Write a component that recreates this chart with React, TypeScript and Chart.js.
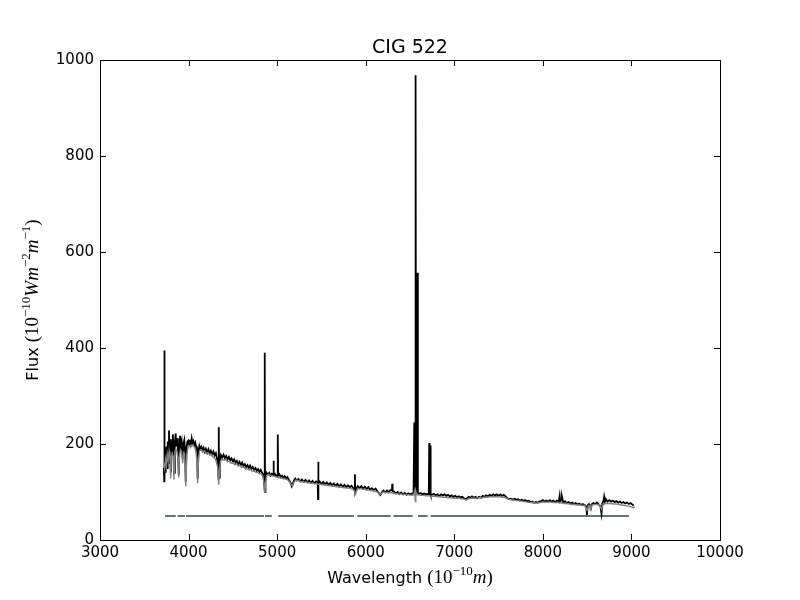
import { useEffect, useRef } from "react";
import { Chart, registerables } from "chart.js";

Chart.register(...registerables);

const chartTitle = "CIG 522";
const xTicks = [3000, 4000, 5000, 6000, 7000, 8000, 9000, 10000];
const yTicks = [0, 200, 400, 600, 800, 1000];

// observed spectrum (black)
const obsWave = [
  3718, 3722, 3725, 3727, 3729, 3735, 3742, 3750, 3758, 3765, 3772, 3779, 3786, 3793, 3800, 3808,
  3815, 3822, 3830, 3837, 3845, 3854, 3862, 3870, 3880, 3889, 3897, 3903, 3912, 3922, 3933, 3942,
  3952, 3960, 3968, 3976, 3986, 3996, 4006, 4016, 4025, 4035, 4045, 4055, 4065, 4075, 4085, 4095,
  4103, 4112, 4122, 4133, 4145, 4158, 4170, 4183, 4196, 4210, 4224, 4238, 4252, 4266, 4280, 4294,
  4308, 4320, 4330, 4338, 4341, 4344, 4352, 4365, 4380, 4395, 4410, 4425, 4440, 4455, 4470, 4485,
  4500, 4515, 4530, 4545, 4560, 4575, 4590, 4605, 4620, 4635, 4650, 4665, 4680, 4695, 4710, 4725,
  4740, 4755, 4770, 4785, 4800, 4815, 4830, 4845, 4855, 4859, 4861, 4863, 4868, 4880, 4895, 4910,
  4925, 4940, 4955, 4959, 4963, 4975, 4990, 5003, 5007, 5011, 5025, 5040, 5055, 5070, 5085, 5100,
  5115, 5130, 5150, 5165, 5175, 5190, 5205, 5220, 5240, 5260, 5280, 5300, 5320, 5340, 5360, 5380,
  5400, 5420, 5440, 5458, 5462, 5464, 5467, 5480, 5500, 5520, 5540, 5560, 5580, 5600, 5620, 5640,
  5660, 5680, 5700, 5720, 5740, 5760, 5780, 5800, 5820, 5840, 5860, 5874, 5878, 5882, 5895, 5910,
  5930, 5950, 5970, 5990, 6010, 6030, 6050, 6070, 6090, 6110, 6130, 6150, 6165, 6180, 6200, 6220,
  6240, 6260, 6280, 6296, 6300, 6304, 6320, 6340, 6360, 6380, 6400, 6420, 6440, 6460, 6480, 6500,
  6520, 6540, 6544, 6548, 6552, 6558, 6563, 6568, 6576, 6583, 6589, 6600, 6620, 6640, 6660, 6680,
  6700, 6712, 6717, 6721, 6726, 6731, 6735, 6750, 6770, 6790, 6810, 6830, 6850, 6870, 6890, 6910,
  6930, 6950, 6970, 6990, 7010, 7030, 7050, 7070, 7090, 7110, 7130, 7145, 7160, 7180, 7200, 7220,
  7240, 7260, 7280, 7300, 7320, 7340, 7360, 7380, 7400, 7420, 7440, 7460, 7480, 7500, 7520, 7540,
  7560, 7580, 7600, 7620, 7640, 7660, 7680, 7700, 7720, 7740, 7760, 7780, 7800, 7820, 7840, 7860,
  7880, 7900, 7920, 7940, 7960, 7980, 8000, 8020, 8040, 8060, 8080, 8100, 8120, 8140, 8160, 8180,
  8190, 8196, 8210, 8216, 8230, 8250, 8270, 8290, 8310, 8330, 8350, 8370, 8390, 8410, 8430, 8450,
  8470, 8490, 8498, 8506, 8520, 8535, 8542, 8550, 8570, 8590, 8610, 8630, 8650, 8662, 8672, 8685,
  8692, 8700, 8715, 8730, 8750, 8770, 8790, 8810, 8830, 8850, 8870, 8890, 8910, 8930, 8950, 8970,
  8990, 9010, 9025,
];
const obsFlux = [
  138, 150, 122, 395, 130, 175, 140, 195, 150, 205, 160, 228, 175, 210, 140, 205,
  185, 220, 190, 140, 200, 222, 195, 212, 190, 135, 200, 217, 195, 205, 170, 200,
  208, 185, 122, 190, 205, 207, 198, 209, 200, 212, 202, 206, 198, 203, 195, 185,
  128, 185, 196, 190, 194, 186, 192, 184, 190, 182, 189, 180, 186, 178, 184, 176,
  181, 170, 160, 128, 235, 130, 160, 177, 172, 178, 170, 175, 168, 173, 166, 170,
  163, 168, 161, 165, 158, 163, 156, 161, 154, 158, 152, 156, 150, 155, 148, 152,
  146, 150, 144, 148, 142, 146, 140, 136, 115, 100, 390, 100, 125, 140, 136, 140,
  134, 138, 135, 165, 136, 138, 133, 135, 220, 134, 137, 131, 134, 129, 133, 128,
  131, 126, 120, 112, 116, 124, 128, 124, 127, 122, 126, 121, 125, 120, 124, 119,
  123, 118, 122, 120, 85, 163, 118, 122, 117, 121, 116, 120, 115, 119, 114, 118,
  113, 117, 112, 116, 111, 115, 110, 114, 110, 113, 108, 105, 137, 100, 108, 112,
  108, 112, 107, 111, 106, 110, 105, 108, 104, 107, 102, 97, 94, 99, 103, 99,
  103, 100, 104, 104, 117, 102, 101, 97, 100, 96, 99, 95, 98, 94, 97, 95,
  97, 96, 96, 245, 110, 100, 968, 110, 100, 557, 98, 96, 98, 95, 97, 95,
  96, 95, 202, 110, 100, 197, 95, 94, 96, 93, 95, 92, 95, 93, 95, 92,
  94, 91, 93, 90, 92, 89, 91, 89, 90, 87, 85, 87, 90, 88, 91, 88,
  90, 87, 90, 88, 92, 90, 93, 91, 94, 92, 95, 93, 95, 92, 95, 92,
  94, 91, 87, 85, 86, 84, 86, 84, 85, 82, 84, 82, 83, 81, 82, 79,
  80, 77, 79, 78, 80, 81, 83, 80, 82, 80, 83, 80, 82, 79, 82, 80,
  92, 80, 84, 90, 78, 81, 77, 79, 76, 78, 75, 77, 74, 76, 73, 75,
  73, 70, 52, 72, 75, 70, 62, 74, 77, 75, 78, 74, 70, 55, 76, 82,
  90, 80, 84, 80, 83, 80, 82, 79, 81, 78, 80, 77, 79, 76, 78, 75,
  77, 74, 72,
];

// fitted model (grey)
const fitWave = [
  3720, 3730, 3740, 3750, 3760, 3770, 3780, 3790, 3798, 3806, 3815, 3825, 3835, 3845, 3855, 3868,
  3880, 3889, 3898, 3910, 3920, 3933, 3945, 3955, 3968, 3980, 3992, 4005, 4020, 4035, 4050, 4065,
  4080, 4092, 4102, 4112, 4125, 4140, 4160, 4180, 4200, 4220, 4240, 4260, 4280, 4300, 4318, 4330,
  4340, 4350, 4362, 4380, 4400, 4420, 4440, 4460, 4480, 4500, 4520, 4540, 4560, 4580, 4600, 4620,
  4640, 4660, 4680, 4700, 4720, 4740, 4760, 4780, 4800, 4820, 4840, 4852, 4861, 4870, 4882, 4900,
  4920, 4940, 4960, 4980, 5000, 5020, 5040, 5060, 5080, 5100, 5120, 5140, 5160, 5175, 5190, 5210,
  5230, 5250, 5270, 5290, 5310, 5330, 5350, 5370, 5390, 5410, 5430, 5450, 5470, 5490, 5510, 5530,
  5550, 5570, 5590, 5610, 5630, 5650, 5670, 5690, 5710, 5730, 5750, 5770, 5790, 5810, 5830, 5850,
  5870, 5885, 5897, 5910, 5930, 5950, 5970, 5990, 6010, 6030, 6050, 6070, 6090, 6110, 6130, 6150,
  6165, 6180, 6200, 6220, 6240, 6260, 6280, 6300, 6320, 6340, 6360, 6380, 6400, 6420, 6440, 6460,
  6480, 6500, 6520, 6540, 6552, 6560, 6566, 6575, 6600, 6620, 6640, 6660, 6680, 6700, 6720, 6750,
  6780, 6810, 6840, 6870, 6900, 6930, 6960, 6990, 7020, 7050, 7080, 7110, 7135, 7160, 7190, 7220,
  7250, 7280, 7310, 7340, 7370, 7400, 7430, 7460, 7490, 7520, 7550, 7580, 7610, 7640, 7670, 7700,
  7730, 7760, 7790, 7820, 7850, 7880, 7910, 7940, 7970, 8000, 8030, 8060, 8090, 8120, 8150, 8180,
  8210, 8240, 8270, 8300, 8330, 8360, 8390, 8420, 8450, 8475, 8498, 8515, 8530, 8542, 8555, 8580,
  8610, 8640, 8662, 8680, 8710, 8740, 8770, 8800, 8830, 8860, 8890, 8920, 8950, 8980, 9005, 9025,
  9035,
];
const fitFlux = [
  160, 150, 168, 155, 178, 165, 185, 170, 128, 175, 180, 175, 126, 182, 190, 185,
  170, 130, 180, 188, 185, 160, 182, 180, 112, 178, 192, 195, 197, 196, 198, 193,
  188, 170, 119, 170, 186, 188, 184, 186, 180, 182, 177, 178, 172, 170, 160, 150,
  115, 148, 165, 168, 166, 168, 163, 164, 160, 161, 157, 158, 154, 155, 151, 152,
  148, 149, 146, 147, 143, 144, 141, 141, 138, 138, 132, 118, 98, 120, 134, 137,
  135, 134, 133, 132, 131, 130, 129, 128, 128, 127, 125, 121, 115, 113, 120, 125,
  124, 123, 121, 122, 120, 121, 119, 119, 118, 118, 117, 117, 116, 116, 115, 115,
  114, 114, 113, 113, 112, 112, 111, 111, 110, 110, 109, 109, 108, 108, 107, 106,
  103, 96, 102, 108, 106, 107, 105, 106, 104, 104, 103, 103, 102, 101, 100, 97,
  95, 98, 100, 99, 99, 98, 99, 98, 97, 97, 96, 96, 96, 95, 95, 94,
  94, 94, 93, 94, 102, 80, 101, 94, 94, 93, 93, 93, 92, 92, 92, 91,
  91, 90, 90, 89, 89, 88, 88, 87, 87, 87, 86, 85, 83, 86, 87, 87,
  87, 88, 88, 89, 89, 90, 90, 90, 90, 90, 89, 88, 85, 84, 83, 82,
  82, 81, 80, 79, 78, 78, 77, 77, 78, 79, 79, 79, 79, 78, 78, 78,
  77, 76, 76, 75, 74, 74, 73, 73, 72, 72, 62, 72, 72, 63, 73, 74,
  74, 73, 64, 74, 76, 76, 76, 75, 75, 74, 73, 72, 71, 70, 69, 67,
  70,
];

// masked wavelength ranges drawn as a bar under the spectrum
const maskStart = [3734, 3877, 3971, 4863, 5013, 5905, 6312, 6590, 6734];
const maskEnd = [3855, 3960, 4852, 4939, 5868, 6282, 6529, 6699, 8972];
const maskLevel = 50;

type Part = { t: string; font: string; dy?: number };

const SANS = "DejaVu Sans";
const SERIF = "Liberation Serif";

function drawRich(ctx: CanvasRenderingContext2D, parts: Part[], x: number, y: number) {
  let total = 0;
  for (const p of parts) {
    ctx.font = p.font;
    total += ctx.measureText(p.t).width;
  }
  let cx = x - total / 2;
  ctx.textAlign = "left";
  ctx.textBaseline = "alphabetic";
  for (const p of parts) {
    ctx.font = p.font;
    ctx.fillText(p.t, cx, y + (p.dy || 0));
    cx += ctx.measureText(p.t).width;
  }
}

const framePlugin = {
  id: "frame",
  afterDatasetsDraw(chart: Chart) {
    const { ctx, chartArea: a, scales } = chart;
    const tick = 6;
    ctx.save();
    ctx.strokeStyle = "#000";
    ctx.lineWidth = 1;
    ctx.beginPath();
    for (const v of xTicks) {
      const px = Math.round(scales.x.getPixelForValue(v)) + 0.5;
      ctx.moveTo(px, a.bottom);
      ctx.lineTo(px, a.bottom - tick);
      ctx.moveTo(px, a.top);
      ctx.lineTo(px, a.top + tick);
    }
    for (const v of yTicks) {
      const py = Math.round(scales.y.getPixelForValue(v)) + 0.5;
      ctx.moveTo(a.left, py);
      ctx.lineTo(a.left + tick, py);
      ctx.moveTo(a.right, py);
      ctx.lineTo(a.right - tick, py);
    }
    ctx.stroke();
    ctx.strokeRect(a.left + 0.5, a.top + 0.5, a.right - a.left, a.bottom - a.top);
    ctx.restore();
  },
  afterDraw(chart: Chart) {
    const { ctx, chartArea: a } = chart;
    const cx = (a.left + a.right) / 2;
    ctx.save();
    ctx.fillStyle = "#000";
    ctx.font = `19px "${SANS}"`;
    ctx.textAlign = "center";
    ctx.textBaseline = "alphabetic";
    ctx.fillText(chartTitle, cx, a.top - 7);

    const sans = `16px "${SANS}"`;
    const rm = `19px "${SERIF}"`;
    const it = `italic 19px "${SERIF}"`;
    const sup = `13px "${SERIF}"`;
    drawRich(
      ctx,
      [
        { t: "Wavelength ", font: sans },
        { t: "(10", font: rm },
        { t: "\u221210", font: sup, dy: -8 },
        { t: "m", font: it },
        { t: ")", font: rm },
      ],
      cx,
      a.bottom + 43
    );

    ctx.translate(38, (a.top + a.bottom) / 2);
    ctx.rotate(-Math.PI / 2);
    drawRich(
      ctx,
      [
        { t: "Flux ", font: sans },
        { t: "(10", font: rm },
        { t: "\u221210", font: sup, dy: -8 },
        { t: "Wm", font: it },
        { t: "\u22122", font: sup, dy: -8 },
        { t: "m", font: it },
        { t: "\u22121", font: sup, dy: -8 },
        { t: ")", font: rm },
      ],
      0,
      0
    );
    ctx.restore();
  },
};

const SpectrumChart = () => {
  const canvasRef = useRef<HTMLCanvasElement | null>(null);
  const chartRef = useRef<Chart | null>(null);

  useEffect(() => {
    if (!canvasRef.current) return;
    const ctx = canvasRef.current.getContext("2d");
    if (!ctx) return;
    if (chartRef.current) chartRef.current.destroy();

    const observed = obsWave.map((w, i) => ({ x: w, y: obsFlux[i] }));
    const fitted = fitWave.map((w, i) => ({ x: w, y: fitFlux[i] }));
    const mask: { x: number; y: number | null }[] = [];
    maskStart.forEach((s, i) => {
      mask.push({ x: s, y: maskLevel });
      mask.push({ x: maskEnd[i], y: maskLevel });
      mask.push({ x: maskEnd[i] + 1, y: null });
    });

    const tickFont = { family: SANS, size: 15 };

    chartRef.current = new Chart(ctx, {
      type: "line",
      data: {
        datasets: [
          {
            data: fitted,
            borderColor: "#808080",
            borderWidth: 1.4,
            pointRadius: 0,
            order: 0,
          },
          {
            data: observed,
            borderColor: "#000000",
            borderWidth: 1.8,
            pointRadius: 0,
            order: 1,
          },
          {
            data: mask,
            borderColor: "#62737a",
            borderWidth: 2,
            pointRadius: 0,
            spanGaps: false,
            order: 2,
          },
        ],
      },
      plugins: [framePlugin],
      options: {
        responsive: false,
        animation: false,
        devicePixelRatio: 1,
        layout: { padding: { top: 60, right: 80, left: 0, bottom: 0 } },
        elements: { line: { tension: 0 } },
        plugins: {
          legend: { display: false },
          tooltip: { enabled: false },
          title: { display: false },
        },
        scales: {
          x: {
            type: "linear",
            min: 3000,
            max: 10000,
            grid: { display: false, drawTicks: false },
            border: { display: false },
            afterBuildTicks: (s: any) => {
              s.ticks = xTicks.map((v) => ({ value: v }));
            },
            afterFit: (s: any) => {
              s.height = 60;
              s.paddingLeft = 0;
              s.paddingRight = 0;
            },
            ticks: {
              autoSkip: false,
              maxRotation: 0,
              padding: 4,
              color: "#000",
              font: tickFont,
              callback: (v: any) => String(v),
            },
          },
          y: {
            type: "linear",
            min: 0,
            max: 1000,
            grid: { display: false, drawTicks: false },
            border: { display: false },
            afterBuildTicks: (s: any) => {
              s.ticks = yTicks.map((v) => ({ value: v }));
            },
            afterFit: (s: any) => {
              s.width = 100;
              s.paddingTop = 0;
              s.paddingBottom = 0;
            },
            ticks: {
              padding: 6,
              color: "#000",
              font: tickFont,
              callback: (v: any) => String(v),
            },
          },
        },
      },
    } as any);

    return () => {
      if (chartRef.current) {
        chartRef.current.destroy();
        chartRef.current = null;
      }
    };
  }, []);

  return (
    <div style={{ position: "absolute", left: 0, top: 0, width: 800, height: 600, background: "#fff" }}>
      <canvas ref={canvasRef} width={800} height={600} style={{ display: "block" }} />
    </div>
  );
};

export default function App() {
  return <SpectrumChart />;
}
